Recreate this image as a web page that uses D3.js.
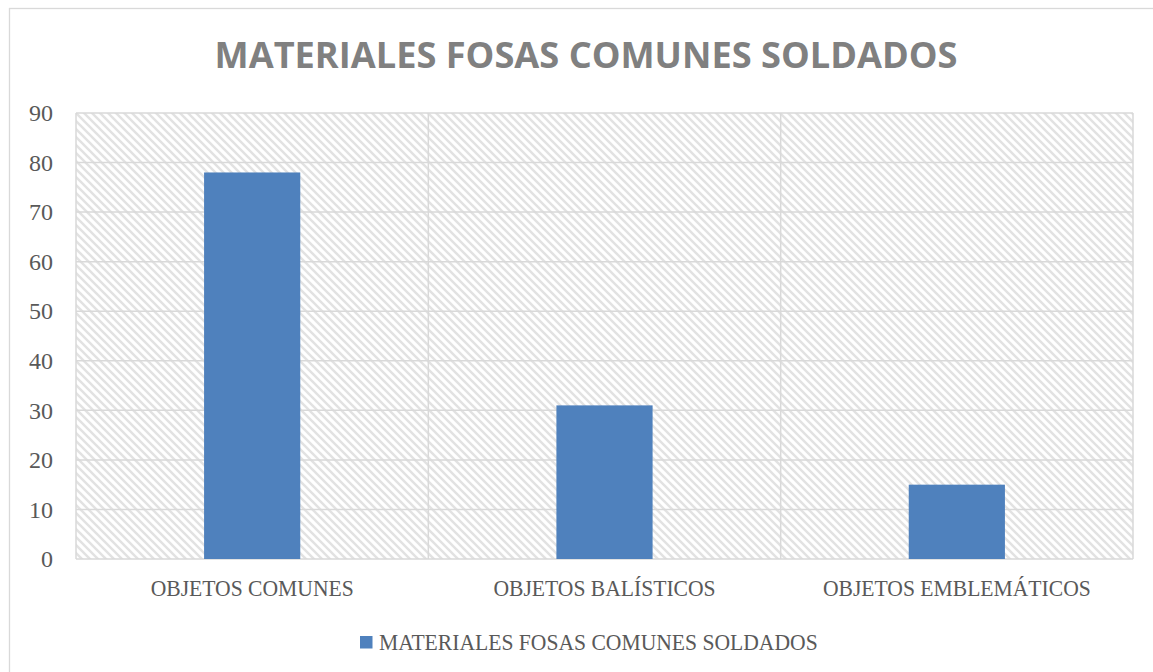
<!DOCTYPE html>
<html>
<head>
<meta charset="utf-8">
<script src="https://cdn.jsdelivr.net/npm/d3@7"></script>
<style>
  html, body { margin: 0; padding: 0; background: #fff; }
  svg { display: block; }
</style>
</head>
<body>
<svg id="chart" width="1153" height="672"></svg>
<script>
// datos del gráfico
const title = "MATERIALES FOSAS COMUNES SOLDADOS";
const categories = ["OBJETOS COMUNES", "OBJETOS BALÍSTICOS", "OBJETOS EMBLEMÁTICOS"];
const values = [78, 31, 15];
const yTicks = [0, 10, 20, 30, 40, 50, 60, 70, 80, 90];
const seriesName = "MATERIALES FOSAS COMUNES SOLDADOS";

const svg = d3.select("#chart");
const serif = "'Liberation Serif', 'DejaVu Serif', serif";
const textColor = "#595959";
const barColor = "#4f81bd";
const gridColor = "#d9d9d9";
const labelSize = 24;
const squeeze = 0.9; // la fuente original es más estrecha

const margin = { top: 113, left: 76 };
const plotW = 1133 - margin.left;
const plotH = 559 - margin.top;

// estrecha un texto sin cambiar su altura
function narrow(sel) {
  sel.each(function () {
    const w = this.getComputedTextLength();
    d3.select(this)
      .attr("textLength", w * squeeze)
      .attr("lengthAdjust", "spacingAndGlyphs");
  });
}

// trama diagonal del fondo
const defs = svg.append("defs");
const pat = defs.append("pattern")
  .attr("id", "hatch")
  .attr("patternUnits", "userSpaceOnUse")
  .attr("width", 8).attr("height", 8);
pat.append("rect").attr("width", 8).attr("height", 8).attr("fill", "#fff");
pat.append("path")
  .attr("d", "M-2,-2 L10,10 M-2,6 L2,10 M6,-2 L10,2")
  .attr("stroke", "#e2e2e2")
  .attr("stroke-width", 2.4);

// borde exterior
svg.append("rect")
  .attr("x", 9.5).attr("y", 8.5)
  .attr("width", 1160).attr("height", 700)
  .attr("fill", "none")
  .attr("stroke", gridColor)
  .attr("stroke-width", 1.3);

// título
const t = svg.append("text")
  .attr("x", 586).attr("y", 68)
  .attr("text-anchor", "middle")
  .attr("font-family", "'Open Sans', 'DejaVu Sans', sans-serif")
  .attr("font-weight", "bold")
  .attr("font-size", 35)
  .attr("fill", "#808080")
  .text(title);
const tw = t.node().getComputedTextLength();
t.attr("font-size", 35 * 743 / tw);

const g = svg.append("g").attr("transform", `translate(${margin.left},${margin.top})`);

const x = d3.scaleBand()
  .domain(categories)
  .range([0, plotW])
  .paddingInner(0.727)
  .paddingOuter(0.3635);

const y = d3.scaleLinear()
  .domain([0, 90])
  .range([plotH, 0]);

g.append("rect")
  .attr("width", plotW).attr("height", plotH)
  .attr("fill", "url(#hatch)");

// líneas de cuadrícula horizontales
g.selectAll("line.hgrid")
  .data(yTicks)
  .enter()
  .append("line")
  .attr("class", "hgrid")
  .attr("x1", 0).attr("x2", plotW)
  .attr("y1", d => y(d)).attr("y2", d => y(d))
  .attr("stroke", gridColor)
  .attr("stroke-width", 1.5);

// líneas verticales entre categorías
const step = x.step();
g.selectAll("line.vgrid")
  .data(d3.range(categories.length + 1))
  .enter()
  .append("line")
  .attr("class", "vgrid")
  .attr("x1", i => i * step).attr("x2", i => i * step)
  .attr("y1", 0).attr("y2", plotH)
  .attr("stroke", gridColor)
  .attr("stroke-width", 1.5);

// barras
g.selectAll("rect.bar")
  .data(values)
  .enter()
  .append("rect")
  .attr("class", "bar")
  .attr("x", (d, i) => x(categories[i]))
  .attr("y", d => y(d))
  .attr("width", x.bandwidth())
  .attr("height", d => plotH - y(d))
  .attr("fill", barColor);

// eje y
const yAxis = g.append("g")
  .call(d3.axisLeft(y).tickValues(yTicks).tickSize(0).tickPadding(23));
yAxis.select(".domain").remove();
yAxis.selectAll("text")
  .attr("font-family", serif)
  .attr("font-size", labelSize)
  .attr("fill", textColor);

// eje x
const xAxis = g.append("g")
  .attr("transform", `translate(0,${plotH})`)
  .call(d3.axisBottom(x).tickSize(0).tickPadding(20));
xAxis.select(".domain").remove();
xAxis.selectAll("text")
  .attr("font-family", serif)
  .attr("font-size", labelSize)
  .attr("fill", textColor)
  .call(narrow);

// leyenda
const leg = svg.append("g").attr("transform", "translate(360,636)");
leg.append("rect")
  .attr("width", 12.5).attr("height", 12.5)
  .attr("fill", barColor);
leg.append("text")
  .attr("x", 19).attr("y", 14)
  .attr("font-family", serif)
  .attr("font-size", labelSize)
  .attr("fill", textColor)
  .text(seriesName)
  .call(narrow);
</script>
</body>
</html>
